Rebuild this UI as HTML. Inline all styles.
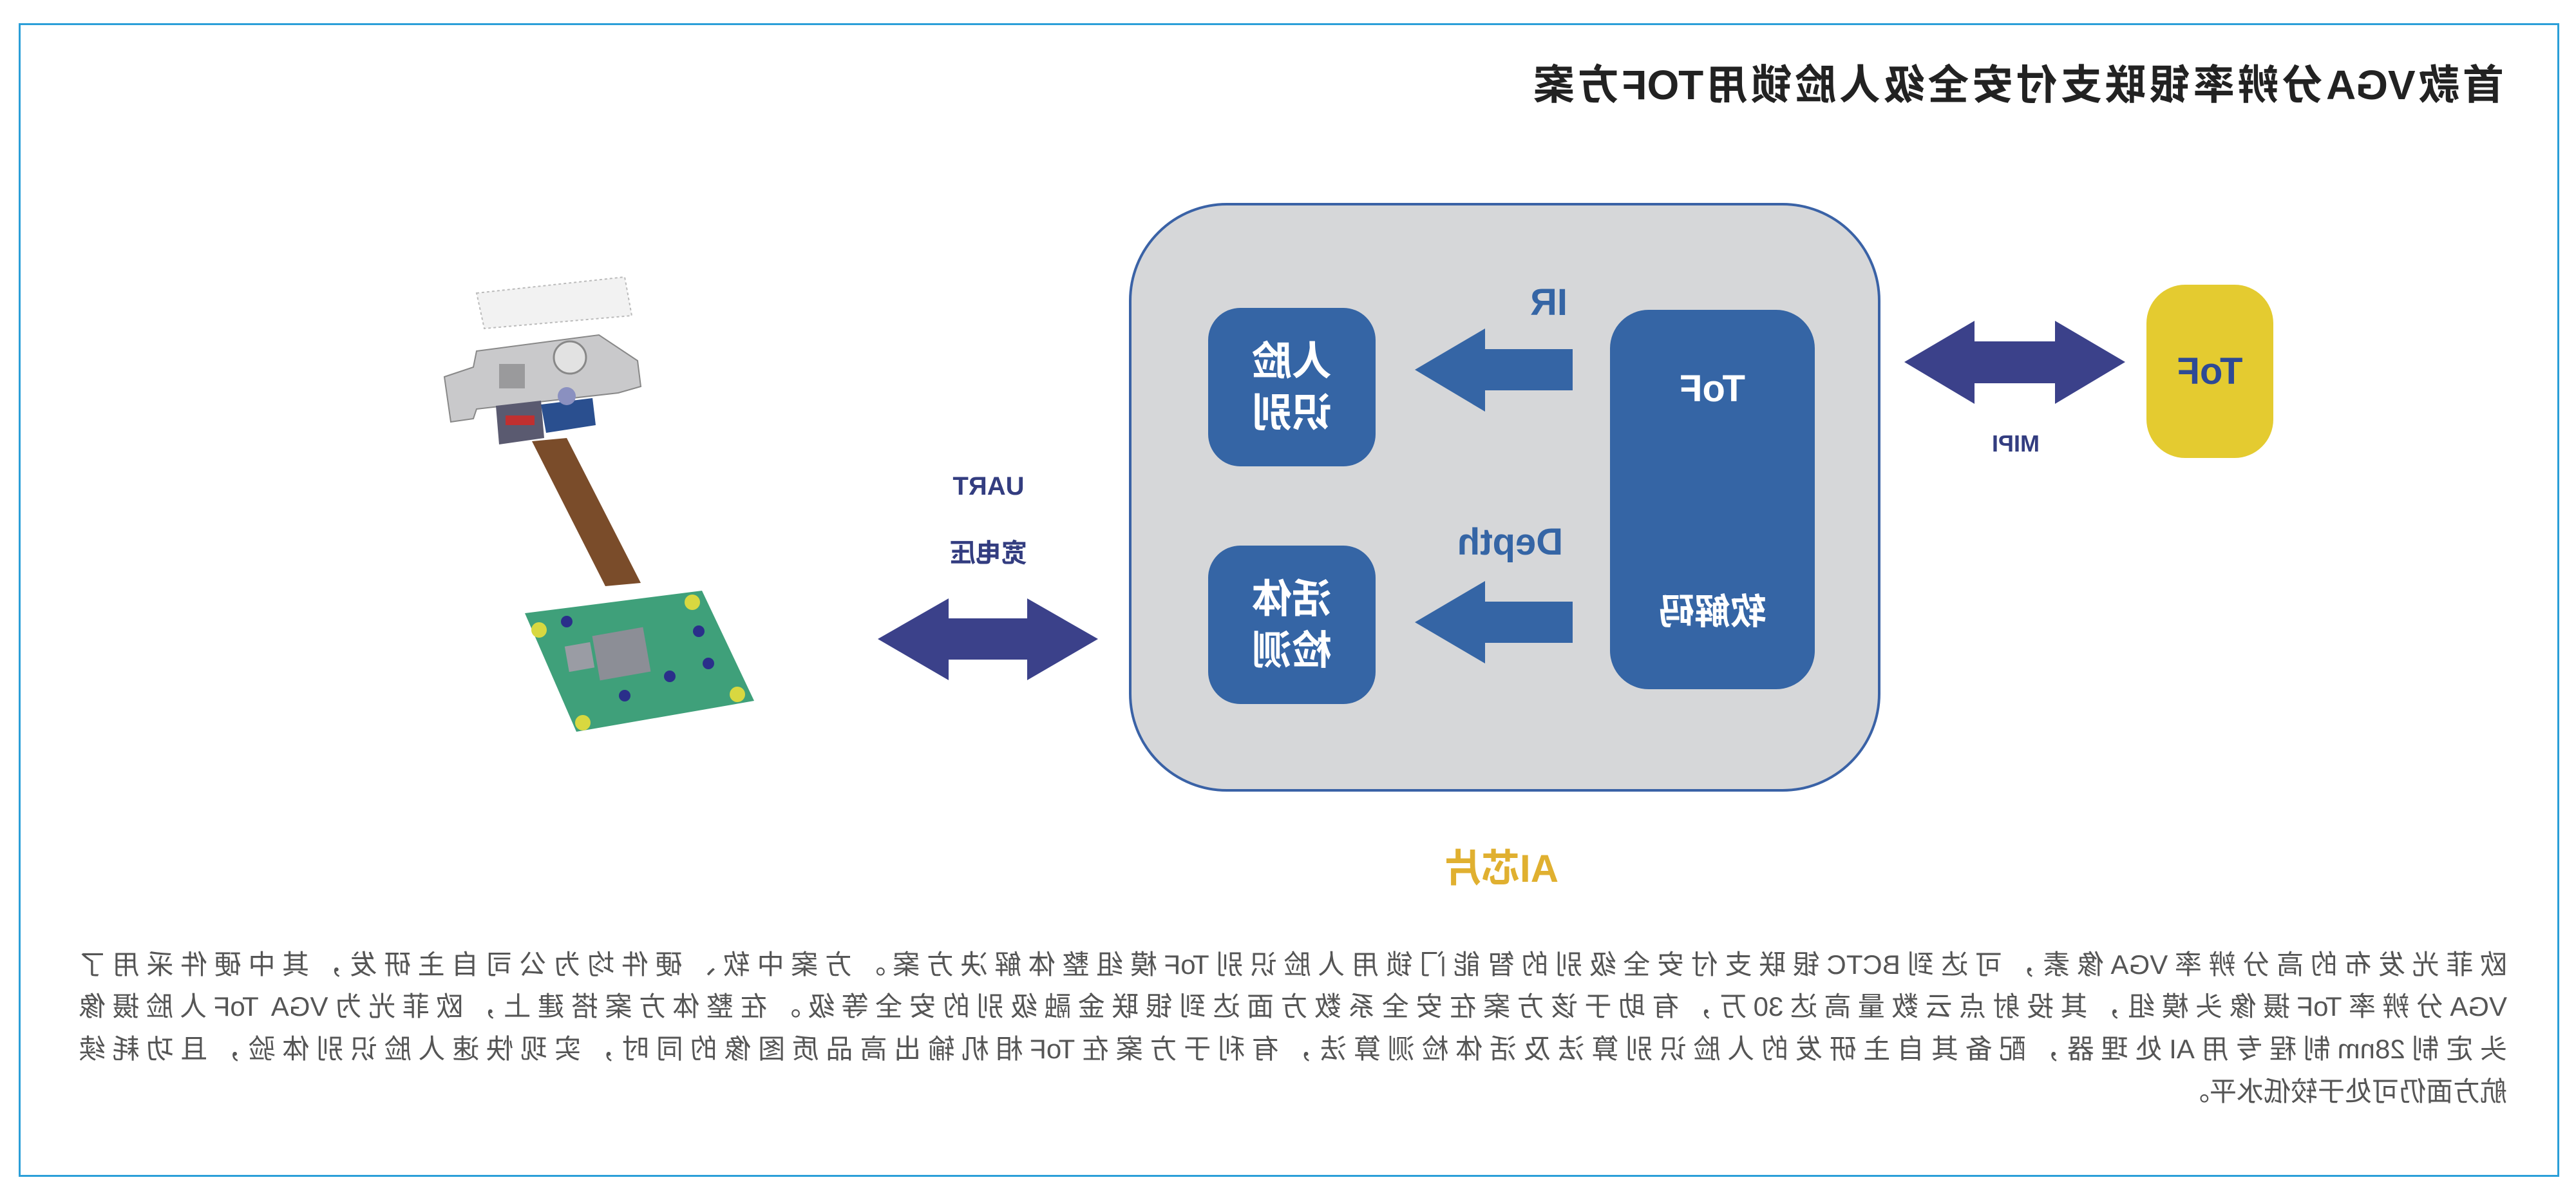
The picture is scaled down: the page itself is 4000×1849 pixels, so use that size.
<!DOCTYPE html>
<html><head><meta charset="utf-8"><style>
html,body{margin:0;padding:0;background:#fff;}
#c{position:relative;width:4000px;height:1849px;overflow:hidden;background:#fff;}
.t{position:absolute;transform:scaleX(-1);white-space:nowrap;font-family:"Liberation Sans","Noto Sans CJK SC",sans-serif;}
.ab{position:absolute;}
.j{text-align:justify;text-align-last:justify;}
</style></head><body><div id="c">
<div class="ab" style="left:29px;top:36px;width:3939px;height:1785px;border:3px solid #2b9fd8;"></div>

<div class="t j" style="left:2381px;top:92px;width:1507px;font-size:64px;font-weight:bold;color:#222;line-height:80px;">首款VGA分辨率银联支付安全级人脸锁用TOF方案</div>

<svg class="ab" style="left:0;top:0" width="4000" height="1849">
 <rect x="1755" y="317" width="1163" height="910" rx="150" ry="150" fill="#d6d7d9" stroke="#3a62a6" stroke-width="4"/>
 <rect x="1876" y="478" width="260" height="246" rx="50" fill="#3565a5"/>
 <rect x="1876" y="847" width="260" height="246" rx="50" fill="#3565a5"/>
 <rect x="2500" y="481" width="318" height="589" rx="60" fill="#3565a5"/>
 <polygon points="2197,574 2306,510 2306,542 2442,542 2442,606 2306,606 2306,639" fill="#3565a5"/>
 <polygon points="2197,966 2306,902 2306,934 2442,934 2442,998 2306,998 2306,1030" fill="#3565a5"/>
 <polygon points="2957,562 3066,498 3066,530 3191,530 3191,498 3300,562 3191,627 3191,595 3066,595 3066,627" fill="#3b418a"/>
 <polygon points="1363,992 1473,929 1473,960 1595,960 1595,929 1705,992 1595,1056 1595,1024 1473,1024 1473,1056" fill="#3b418a"/>
 <rect x="3333" y="442" width="197" height="269" rx="60" fill="#e4cb30"/>
 <!-- PCB illustration -->
 <polygon points="740,455 970,430 981,490 752,510" fill="#f2f2f2" stroke="#bbb" stroke-width="2" stroke-dasharray="4 4"/>
 <polygon points="690,585 735,570 740,545 930,520 990,560 995,600 960,610 740,635 735,650 700,655" fill="#c9c9cb" stroke="#888" stroke-width="2"/>
 <rect x="775" y="565" width="40" height="38" fill="#9a9a9c"/>
 <circle cx="885" cy="555" r="25" fill="#e2e2e2" stroke="#888" stroke-width="3"/>
 <polygon points="770,630 840,622 845,680 775,690" fill="#5a5a70"/>
 <rect x="785" y="645" width="45" height="15" fill="#c03030"/>
 <polygon points="840,628 920,618 925,660 848,672" fill="#2a4f8f"/>
 <circle cx="880" cy="615" r="14" fill="#8a90c0"/>
 <polygon points="826,685 880,680 995,905 940,910" fill="#7a4c2a"/>
 <polygon points="815,952 1090,917 1171,1088 895,1136" fill="#3fa07a"/>
 <rect x="925" y="980" width="80" height="70" fill="#8c8e96" transform="rotate(-10 965 1015)"/>
 <rect x="880" y="1000" width="40" height="40" fill="#9a9ca4" transform="rotate(-10 900 1020)"/>
 <circle cx="837" cy="978" r="12" fill="#d8d840"/><circle cx="1075" cy="935" r="12" fill="#d8d840"/>
 <circle cx="1145" cy="1078" r="12" fill="#d8d840"/><circle cx="905" cy="1122" r="12" fill="#d8d840"/>
 <circle cx="880" cy="965" r="9" fill="#2a2f8a"/><circle cx="1085" cy="980" r="9" fill="#2a2f8a"/>
 <circle cx="1040" cy="1050" r="9" fill="#2a2f8a"/><circle cx="970" cy="1080" r="9" fill="#2a2f8a"/>
 <circle cx="1100" cy="1030" r="9" fill="#2a2f8a"/>
</svg>

<div class="t" style="left:1876px;top:522px;width:260px;text-align:center;font-size:62px;font-weight:bold;color:#fff;line-height:80px;white-space:normal;">人脸<br>识别</div>
<div class="t" style="left:1876px;top:891px;width:260px;text-align:center;font-size:62px;font-weight:bold;color:#fff;line-height:80px;white-space:normal;">活体<br>检测</div>
<div class="t" style="left:2500px;top:570px;width:318px;text-align:center;font-size:58px;font-weight:bold;color:#fff;">ToF</div>
<div class="t" style="left:2500px;top:905px;width:318px;text-align:center;font-size:56px;font-weight:bold;color:#fff;">软解码</div>
<div class="t" style="left:2330px;top:436px;width:150px;text-align:center;font-size:58px;font-weight:bold;color:#3565a5;">IR</div>
<div class="t" style="left:2230px;top:808px;width:230px;text-align:center;font-size:58px;font-weight:bold;color:#3565a5;">Depth</div>
<div class="t" style="left:3333px;top:543px;width:197px;text-align:center;font-size:58px;font-weight:bold;color:#2e4a95;">ToF</div>
<div class="t" style="left:3060px;top:668px;width:140px;text-align:center;font-size:36px;font-weight:bold;color:#333d80;">MIPI</div>
<div class="t" style="left:1460px;top:733px;width:150px;text-align:center;font-size:40px;font-weight:bold;color:#333d80;">UART</div>
<div class="t" style="left:1460px;top:826px;width:150px;text-align:center;font-size:40px;font-weight:bold;color:#333d80;">宽电压</div>
<div class="t" style="left:2220px;top:1300px;width:220px;text-align:center;font-size:60px;font-weight:bold;color:#e0b030;">AI芯片</div>

<div class="t j" style="left:122px;top:1472px;width:3771px;font-size:42px;color:#555;line-height:52px;">欧菲光发布的高分辨率VGA像素，可达到BCTC银联支付安全级别的智能门锁用人脸识别ToF模组整体解决方案。方案中软、硬件均为公司自主研发，其中硬件采用了</div>
<div class="t j" style="left:122px;top:1537px;width:3771px;font-size:42px;color:#555;line-height:52px;">VGA分辨率ToF摄像头模组，其投射点云数量高达30万，有助于该方案在安全系数方面达到银联金融级别的安全等级。在整体方案搭建上，欧菲光为VGA ToF人脸摄像</div>
<div class="t j" style="left:122px;top:1603px;width:3771px;font-size:42px;color:#555;line-height:52px;">头定制28nm制程专用AI处理器，配备其自主研发的人脸识别算法及活体检测算法，有利于方案在ToF相机输出高品质图像的同时，实现快速人脸识别体验，且功耗续</div>
<div class="t" style="left:3493px;top:1669px;width:400px;text-align:left;font-size:42px;color:#555;line-height:52px;">航方面仍可处于较低水平。</div>
</div></body></html>
